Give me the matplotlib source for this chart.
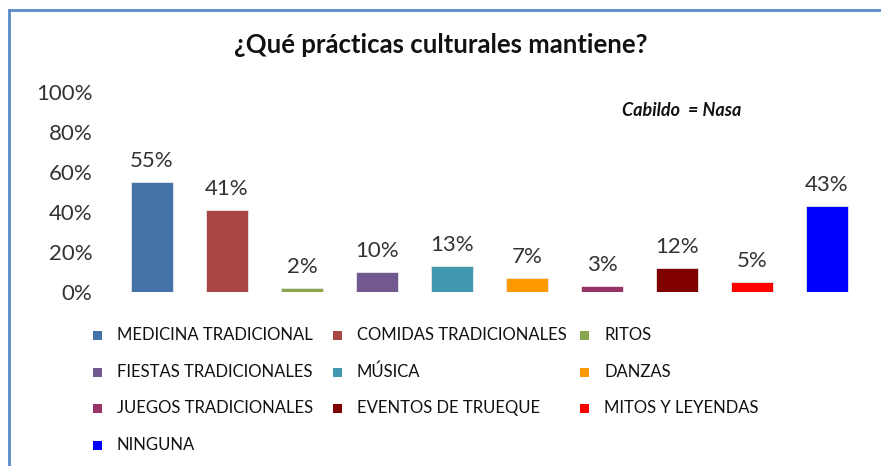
import matplotlib
matplotlib.use("Agg")
import matplotlib.pyplot as plt
from matplotlib.patches import Rectangle
from matplotlib.lines import Line2D

# respuestas de la encuesta (porcentaje)
categorias = [
    "MEDICINA TRADICIONAL", "COMIDAS TRADICIONALES", "RITOS",
    "FIESTAS TRADICIONALES", "MÚSICA", "DANZAS",
    "JUEGOS TRADICIONALES", "EVENTOS DE TRUEQUE", "MITOS Y LEYENDAS",
    "NINGUNA",
]
valores = [55, 41, 2, 10, 13, 7, 3, 12, 5, 43]
colores = [
    "#4572A7", "#AA4643", "#89A54E", "#71588F", "#4198AF",
    "#FF9900", "#993366", "#800000", "#FF0000", "#0000FF",
]
yticks = [0, 20, 40, 60, 80, 100]

plt.rcParams["font.family"] = ["Lato", "DejaVu Sans"]

W, H = 881, 466
fig = plt.figure(figsize=(W / 100, H / 100), dpi=100)
ax = fig.add_axes([114.5 / W, (H - 292) / H, 750 / W, 200 / H])

x = list(range(len(valores)))
ax.bar(x, valores, width=0.56, color=colores, edgecolor="#E8E8E8", linewidth=0.6)

for xi, v in zip(x, valores):
    ax.annotate(f"{v}%", (xi, v), xytext=(0, 8), textcoords="offset points",
                ha="center", va="bottom", fontsize=16, color="#333333")

ax.set_xlim(-0.5, len(valores) - 0.5)
ax.set_ylim(0, 100)
ax.set_yticks(yticks)
ax.set_yticklabels([f"{t}%" for t in yticks], fontsize=16, color="#333333")
ax.set_xticks([])
ax.tick_params(axis="y", length=0, pad=16)
for s in ax.spines.values():
    s.set_visible(False)

fig.text(0.5, 1 - 45 / H, "¿Qué prácticas culturales mantiene?",
         ha="center", va="center", fontsize=18.5, fontweight="bold", color="#111111")
fig.text(622 / W, 1 - 111 / H, "Cabildo  = Nasa", ha="left", va="center",
         fontsize=13, fontweight="bold", style="italic", color="#111111")

# leyenda: tres columnas de ancho fijo, llenando por filas
col_x = [93, 333, 580]
fila_y = [335, 372, 408, 445]
for i, (nombre, c) in enumerate(zip(categorias, colores)):
    px = col_x[i % 3]
    py = fila_y[i // 3]
    fig.add_artist(Rectangle((px / W, 1 - (py + 4.5) / H), 9 / W, 9 / H,
                             transform=fig.transFigure, facecolor=c,
                             edgecolor="none"))
    fig.text((px + 24) / W, 1 - py / H, nombre, ha="left", va="center",
             fontsize=12, color="#111111")

# marco superior e izquierdo
fig.add_artist(Line2D([9 / W, 9 / W], [0, 1 - 10 / H],
                      transform=fig.transFigure, color="#5B8BC9", linewidth=2))
fig.add_artist(Line2D([9 / W, 1], [1 - 10 / H, 1 - 10 / H],
                      transform=fig.transFigure, color="#5B8BC9", linewidth=2))

fig.savefig("out.png", dpi=100)
